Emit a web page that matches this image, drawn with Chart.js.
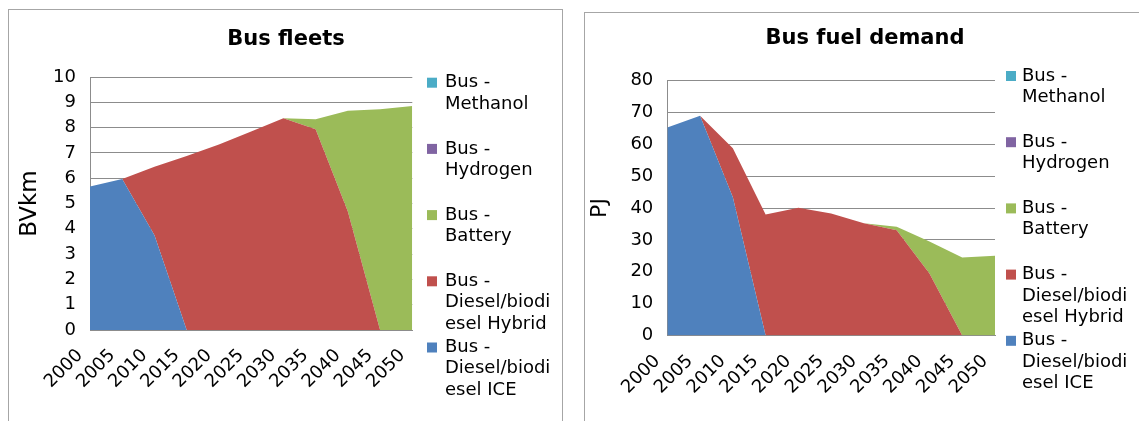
<!DOCTYPE html>
<html>
<head>
<meta charset="utf-8">
<script src="https://cdn.jsdelivr.net/npm/chart.js@4/dist/chart.umd.min.js"></script>
<style>
  html, body { margin: 0; padding: 0; background: #fff; width: 1139px; height: 421px; overflow: hidden; }
  body { position: relative; }
  .frame { position: absolute; border: 1px solid #a6a6a6; background: #fff; }
  #frameFleet { left: 8px; top: 9px; width: 553px; height: 440px; }
  #frameFuel { left: 584px; top: 12px; width: 600px; height: 440px; }
  canvas { position: absolute; top: 0; }
  #fleetChart { left: 0; }
  #fuelChart { left: 570px; }
</style>
</head>
<body>
<div class="frame" id="frameFleet"></div>
<div class="frame" id="frameFuel"></div>
<canvas id="fleetChart" width="570" height="421"></canvas>
<canvas id="fuelChart" width="569" height="421"></canvas>
<script>
// Categories
const years = ['2000', '2005', '2010', '2015', '2020', '2025', '2030', '2035', '2040', '2045', '2050'];

// Series names, wrapped the way the legend shows them (bottom of the stack first)
const seriesLines = [
  ['Bus -', 'Diesel/biodi', 'esel ICE'],
  ['Bus -', 'Diesel/biodi', 'esel Hybrid'],
  ['Bus -', 'Battery'],
  ['Bus -', 'Hydrogen'],
  ['Bus -', 'Methanol']
];
const seriesColors = ['#4F81BD', '#C0504D', '#9BBB59', '#8064A2', '#4BACC6'];

// Bus fleets (BVkm)
const fleetICE      = [5.67, 5.97, 3.75, 0, 0, 0, 0, 0, 0, 0, 0];
const fleetHybrid   = [0, 0, 2.70, 6.88, 7.33, 7.85, 8.37, 7.93, 4.68, 0, 0];
const fleetBattery  = [0, 0, 0, 0, 0, 0, 0, 0.40, 3.99, 8.73, 8.85];
const fleetHydrogen = [0, 0, 0, 0, 0, 0, 0, 0, 0, 0, 0];
const fleetMethanol = [0, 0, 0, 0, 0, 0, 0, 0, 0, 0, 0];

// Bus fuel demand (PJ)
const fuelICE      = [65.2, 68.9, 43.4, 0, 0, 0, 0, 0, 0, 0, 0];
const fuelHybrid   = [0, 0, 15.3, 38.0, 40.1, 38.3, 35.2, 33.0, 19.5, 0, 0];
const fuelBattery  = [0, 0, 0, 0, 0, 0, 0, 1.1, 10.0, 24.5, 25.0];
const fuelHydrogen = [0, 0, 0, 0, 0, 0, 0, 0, 0, 0, 0];
const fuelMethanol = [0, 0, 0, 0, 0, 0, 0, 0, 0, 0, 0];

const FONT = '"DejaVu Sans", Verdana, sans-serif';
const GRID = '#8c8c8c';

// Draws the panel heading and the wrapped side legend
const panelDecor = {
  id: 'panelDecor',
  afterDraw(chart, args, o) {
    const ctx = chart.ctx;
    ctx.save();
    ctx.fillStyle = '#000';
    ctx.font = 'bold ' + o.titleSize + 'px ' + FONT;
    ctx.textAlign = 'center';
    ctx.textBaseline = 'middle';
    ctx.fillText(o.title, o.titleX, o.titleY);

    ctx.font = o.legendSize + 'px ' + FONT;
    ctx.textAlign = 'left';
    const ds = chart.data.datasets;
    for (let i = ds.length - 1, k = 0; i >= 0; i--, k++) {
      const y = o.legendTop + k * o.legendStep;
      ctx.fillStyle = ds[i].backgroundColor;
      ctx.fillRect(o.legendX, y - o.box / 2, o.box, o.box);
      ctx.fillStyle = '#000';
      seriesLines[i].forEach((t, j) => ctx.fillText(t, o.textX, y + j * o.lineH));
    }
    ctx.restore();
  }
};

function makeChart(id, series, yMax, yStep, yTitle, g) {
  return new Chart(document.getElementById(id), {
    type: 'line',
    data: {
      labels: years,
      datasets: series.map((vals, i) => ({
        label: seriesLines[i].join(' '),
        data: vals,
        backgroundColor: seriesColors[i],
        borderColor: seriesColors[i],
        borderWidth: 0,
        pointRadius: 0,
        tension: 0,
        fill: i === 0 ? 'origin' : '-1'
      }))
    },
    options: {
      responsive: false,
      animation: false,
      events: [],
      layout: { padding: { left: 0, top: g.top, right: g.right, bottom: g.bottom } },
      plugins: {
        legend: { display: false },
        title: { display: false },
        tooltip: { enabled: false },
        panelDecor: g.decor
      },
      scales: {
        x: {
          offset: false,
          grid: { display: false, drawTicks: false },
          border: { color: GRID },
          ticks: {
            autoSkip: false, minRotation: 45, maxRotation: 45,
            font: { size: g.tickSize, family: FONT }, color: '#000',
            padding: 15, labelOffset: -10
          },
          afterFit: s => { s.height = g.xh; }
        },
        y: {
          stacked: true,
          min: 0, max: yMax,
          ticks: { stepSize: yStep, font: { size: g.tickSize, family: FONT }, color: '#000', padding: 14 },
          grid: { color: GRID, drawTicks: false },
          border: { color: GRID },
          title: { display: true, text: yTitle, color: '#000', font: { size: g.axisTitleSize, family: FONT }, padding: { top: g.axisTitlePad, bottom: 0 } },
          afterFit: s => { s.width = g.yw; }
        }
      }
    },
    plugins: [panelDecor]
  });
}

makeChart('fleetChart',
  [fleetICE, fleetHybrid, fleetBattery, fleetHydrogen, fleetMethanol],
  10, 1, 'BVkm',
  {
    top: 77, right: 157.7, bottom: 11, xh: 80, yw: 90,
    tickSize: 18, axisTitleSize: 23, axisTitlePad: 16,
    decor: { title: 'Bus fleets', titleX: 286, titleY: 40, titleSize: 21,
             legendX: 427, textX: 445, legendTop: 82.7, legendStep: 66.2, lineH: 21.3, box: 10, legendSize: 18 }
  });

makeChart('fuelChart',
  [fuelICE, fuelHybrid, fuelBattery, fuelHydrogen, fuelMethanol],
  80, 10, 'PJ',
  {
    top: 80.4, right: 144, bottom: 6, xh: 79.4, yw: 97.3,
    tickSize: 18, axisTitleSize: 22, axisTitlePad: 17,
    decor: { title: 'Bus fuel demand', titleX: 295, titleY: 39, titleSize: 21,
             legendX: 436, textX: 452, legendTop: 76, legendStep: 66.2, lineH: 21.3, box: 10, legendSize: 18 }
  });
</script>
</body>
</html>
